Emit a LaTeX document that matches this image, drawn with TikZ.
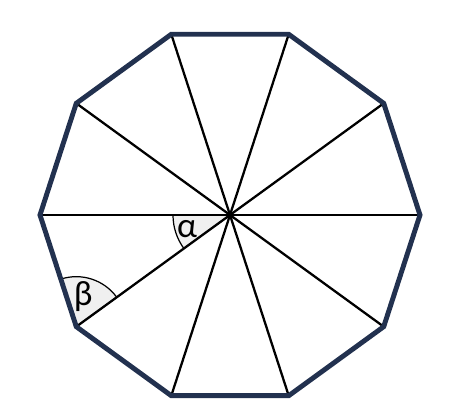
\documentclass[tikz,border=0pt]{standalone}
\usepackage{fontspec}
\setmainfont{Carlito}
\usetikzlibrary{positioning}
\definecolor{mnavy}{HTML}{22314F}
\definecolor{mshade}{HTML}{F0F0F0}
\tikzstyle{rim} = [line width=2.8pt, draw=mnavy, line join=miter]
\tikzstyle{spoke} = [line width=1.3pt, draw=black]
\tikzstyle{wedge} = [fill=mshade, draw=black, line width=0.7pt]
\tikzstyle{greek} = [font=\fontsize{20}{22}\selectfont, inner sep=0pt]

\begin{document}
\begin{tikzpicture}[x=0.02cm, y=0.02cm]
  \useasboundingbox (0,0) rectangle (468,408);
  \coordinate (c) at (230,193);
  \begin{scope}[shift={(c)}]
    \foreach \i in {0,...,9} \coordinate (v\i) at (36*\i:190);
  \end{scope}
  % shaded angles
  \filldraw [wedge] (c) -- ++(180:57) arc[start angle=180, end angle=216, radius=57] -- cycle;
  \filldraw [wedge] (v6) -- ++(36:50) arc[start angle=36, end angle=108, radius=50] -- cycle;
  \foreach \i in {0,...,9} \draw [spoke] (c) -- (v\i);
  \draw [rim] (v0) -- (v1) -- (v2) -- (v3) -- (v4) -- (v5) -- (v6) -- (v7) -- (v8) -- (v9) -- cycle;
  \node (alpha) [greek] at ([shift={(198:45)}]c) {α};
  \node (beta) [greek] at ([shift={(77:31)}]v6) {β};
\end{tikzpicture}
\end{document}
